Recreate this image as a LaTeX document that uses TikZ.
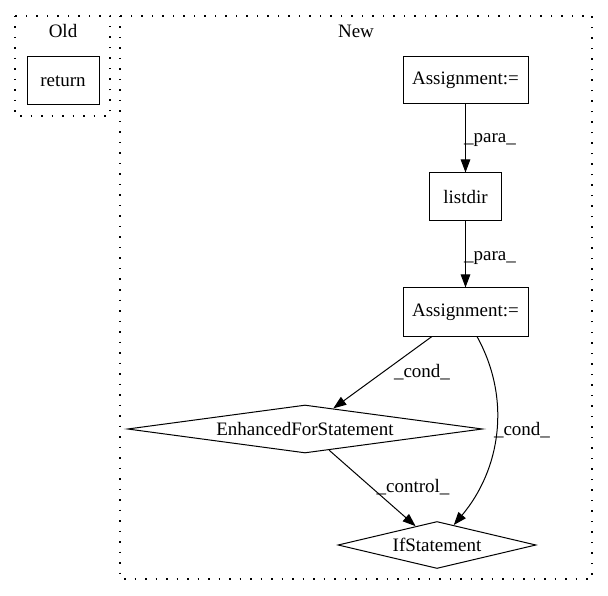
\documentclass[tikz,border=0pt]{standalone}
\usepackage{fontspec}
\setmainfont{Liberation Serif}
\usetikzlibrary{shapes.geometric,arrows.meta}
\begin{document}
\begin{tikzpicture}[x=1pt,y=-1pt,
  every node/.style={font=\fontsize{19}{23}\selectfont},
  box/.style={draw,line width=1pt,inner sep=0pt},
  dia/.style={draw,line width=1pt,shape=diamond,inner sep=0pt,aspect=7},
  clus/.style={draw,line width=1.3pt,dash pattern=on 1.5pt off 9pt},
  edge/.style={line width=1pt,-{Triangle[length=13pt,width=9.5pt]}},
  lab/.style={inner sep=0pt}]
\useasboundingbox (0,0) rectangle (608,596);
% clusters
\draw[clus] (15,16) rectangle (110,116);
\draw[clus] (120,16) rectangle (592,579);
\node[lab] (oldlab) at (63,31) {Old};
\node[lab] (newlab) at (356,31) {New};
% nodes
\node[box,minimum width=72pt,minimum height=48pt] (ret) at (63,81) {return};
\node[box,minimum width=125pt,minimum height=47pt] (a1) at (465.5,80.5) {Assignment:=};
\node[box,minimum width=72pt,minimum height=48pt] (ld) at (465.5,197) {listdir};
\node[box,minimum width=125pt,minimum height=48pt] (a2) at (465.5,312) {Assignment:=};
\node[dia,minimum width=355pt,minimum height=48pt] (efs) at (305,429) {EnhancedForStatement};
\node[dia,minimum width=198pt,minimum height=47pt] (ifs) at (437,545) {IfStatement};
% edges
\draw[edge] (a1) -- (ld);
\node[lab] (l1) at (490,140) {\_para\_};
\draw[edge] (ld) -- (a2);
\node[lab] (l2) at (490,258) {\_para\_};
\draw[edge] (a2) -- (efs);
\node[lab] (l3) at (422,372) {\_cond\_};
\draw[edge] ([xshift=11.5pt]a2.south) .. controls (512,400) and (500,470) .. (ifs);
\node[lab] (l4) at (522,430) {\_cond\_};
\draw[edge] (efs) -- (ifs);
\node[lab] (l5) at (413,487) {\_control\_};
\end{tikzpicture}
\end{document}
